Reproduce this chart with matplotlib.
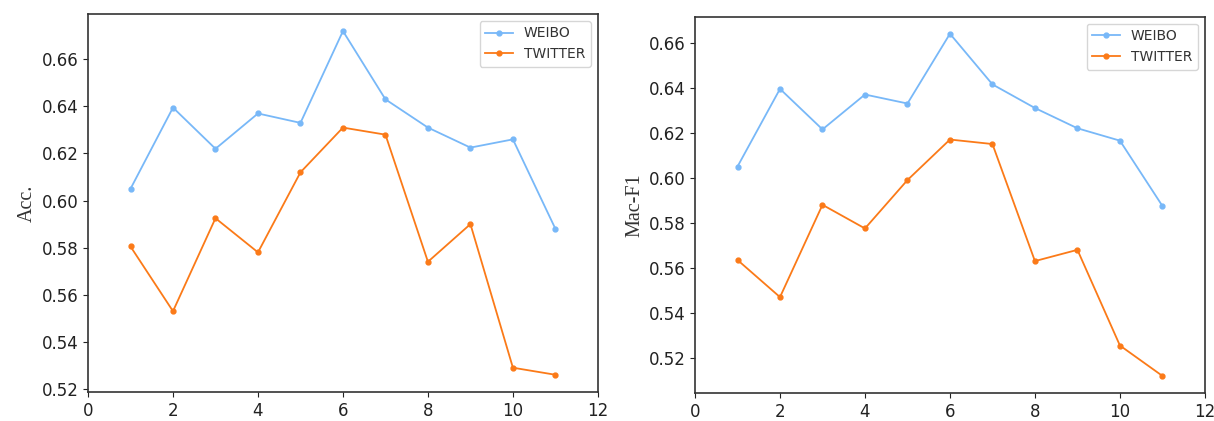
import matplotlib
matplotlib.use('Agg')
import matplotlib.pyplot as plt

# x positions (number of layers / steps)
steps = [1, 2, 3, 4, 5, 6, 7, 8, 9, 10, 11]

# Accuracy
acc_weibo = [0.605, 0.6395, 0.622, 0.637, 0.633, 0.672, 0.643, 0.631, 0.6225, 0.626, 0.588]
acc_twitter = [0.5805, 0.553, 0.5925, 0.578, 0.612, 0.631, 0.628, 0.574, 0.590, 0.529, 0.526]

# Macro F1
f1_weibo = [0.605, 0.6395, 0.6215, 0.637, 0.633, 0.664, 0.6415, 0.631, 0.622, 0.6165, 0.5875]
f1_twitter = [0.5635, 0.547, 0.588, 0.5775, 0.599, 0.617, 0.615, 0.563, 0.568, 0.5255, 0.512]

weibo_color = '#78b8f8'
twitter_color = '#fb7a18'

fig = plt.figure(figsize=(12.14, 4.21), dpi=100)
ax1 = fig.add_axes([0.0725, 0.069, 0.42, 0.898])
ax2 = fig.add_axes([0.5725, 0.0665, 0.42, 0.894])

panels = [
    (ax1, acc_weibo, acc_twitter, 'Acc.'),
    (ax2, f1_weibo, f1_twitter, 'Mac-F1'),
]

for ax, weibo, twitter, ylabel in panels:
    ax.plot(steps, weibo, color=weibo_color, marker='o', markersize=3.5, linewidth=1.3, label='WEIBO')
    ax.plot(steps, twitter, color=twitter_color, marker='o', markersize=3.5, linewidth=1.3, label='TWITTER')
    ax.set_xlim(0, 12)
    ax.set_xticks([0, 2, 4, 6, 8, 10, 12])
    ax.tick_params(labelsize=12, colors='#222222')
    ax.set_ylabel(ylabel, family='Liberation Serif', fontsize=14.5, color='#333333', labelpad=3)
    for spine in ax.spines.values():
        spine.set_linewidth(1.2)
        spine.set_color('#333333')
    leg = ax.legend(loc='upper right', fontsize=10)
    for t in leg.get_texts():
        t.set_color('#333333')

fig.savefig('out.png', dpi=100)
